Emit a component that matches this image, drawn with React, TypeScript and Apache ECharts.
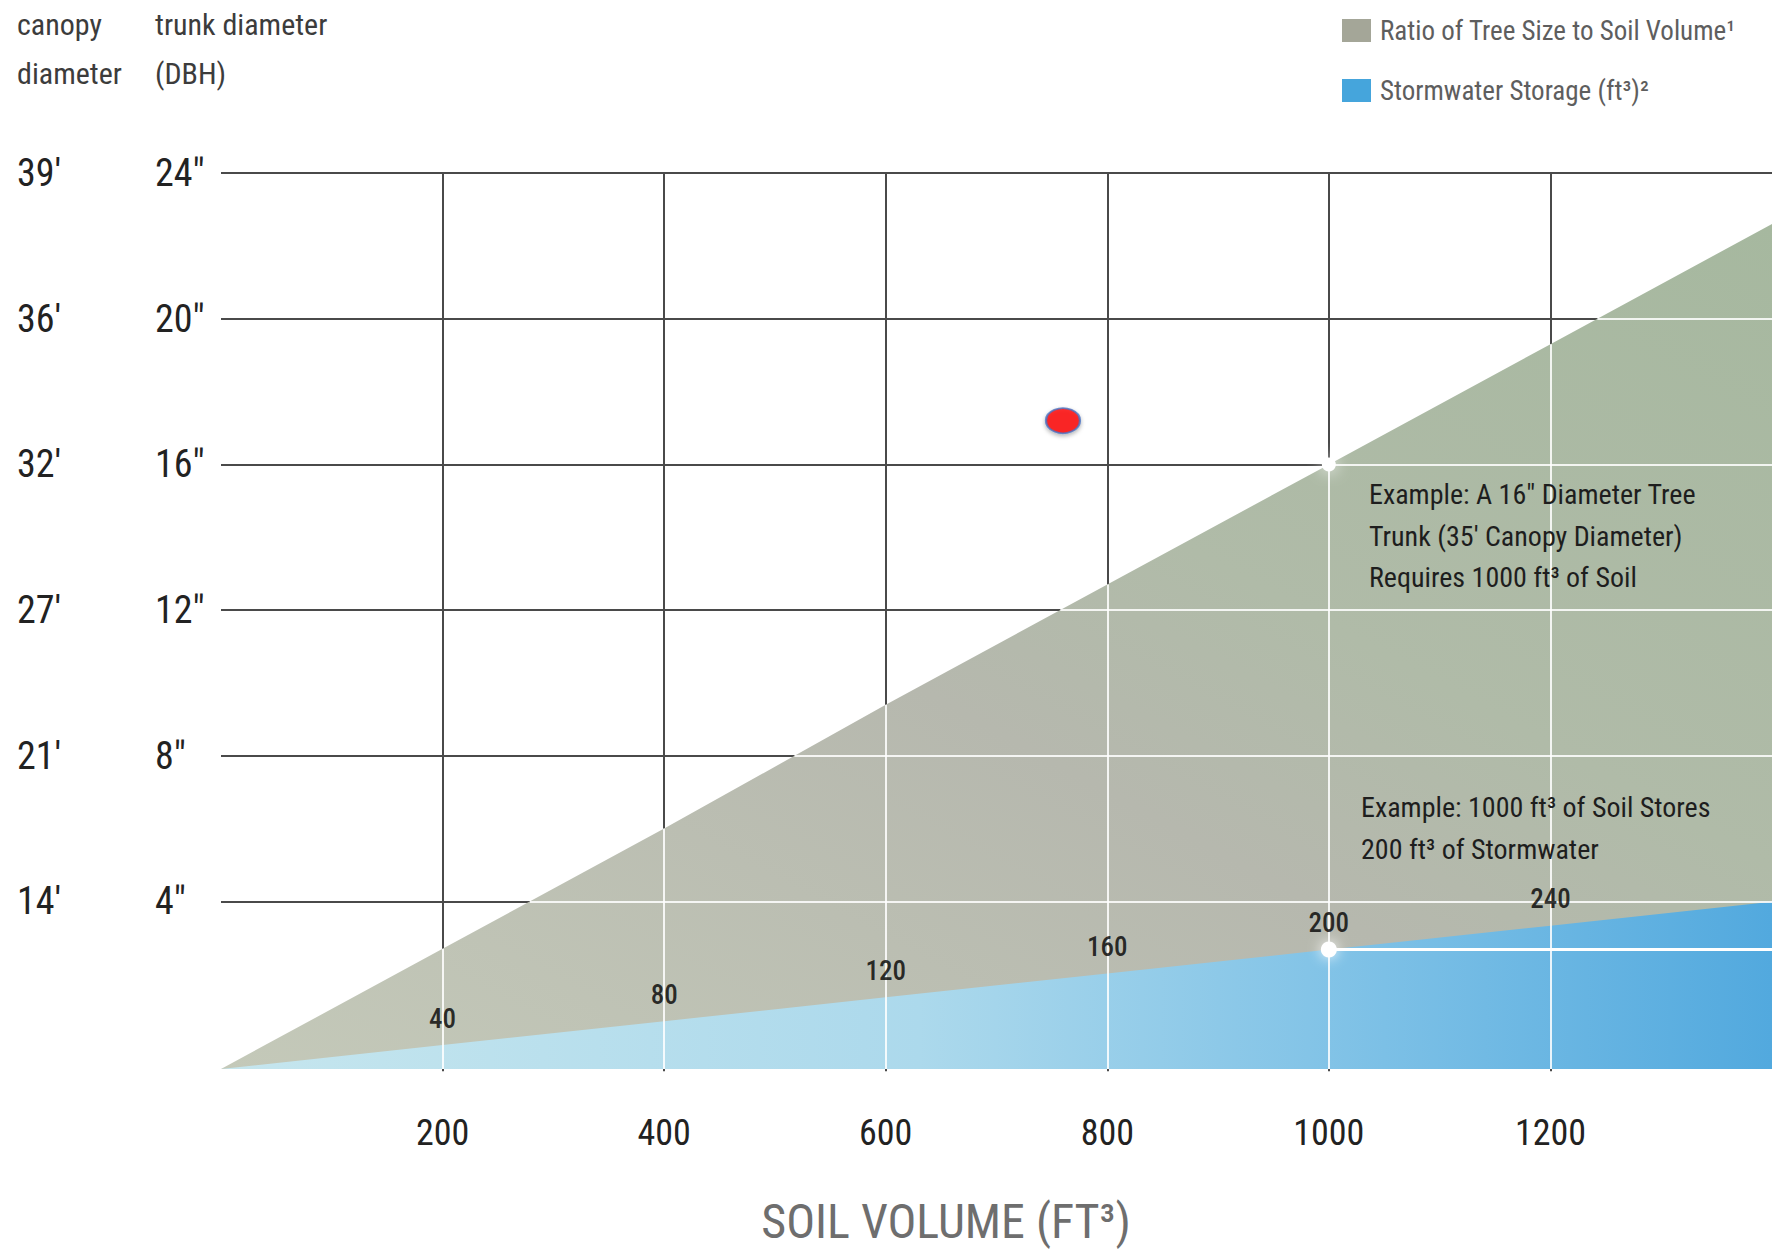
import React, { useEffect, useRef } from 'react';
import * as echarts from 'echarts';

const FONT = "'Liberation Sans Narrow', 'Roboto Condensed', 'DejaVu Sans Condensed', 'Liberation Sans', Arial, sans-serif";

// ---- data ----
const soilVolume = [0, 200, 400, 600, 800, 1000, 1200, 1400];
const treeTrunk = [-0.6, 2.7, 6.0, 9.4, 12.7, 16, 19.3, 22.6];
const stormwater = [0, 40, 80, 120, 160, 200, 240, 280];
const xTicks = [200, 400, 600, 800, 1000, 1200];
const trunkTicks = [4, 8, 12, 16, 20, 24];
const canopyLabels = ["14'", "21'", "27'", "32'", "36'", "39'"];
const Y_MIN = -0.6;
const Y_MAX = 24;
const X_MAX = 1400;
const STORM_MAX = 1500;
const exampleSoil = 1000;
const exampleTrunk = 16;
const exampleStorm = 200;
const redPoint = [760, 17.2];

const TREE_NAME = 'Ratio of Tree Size to Soil Volume¹';
const STORM_NAME = 'Stormwater Storage (ft³)²';

function interp(xs: number[], ys: number[], x: number) {
  for (let i = 0; i < xs.length - 1; i++) {
    if (x >= xs[i] && x <= xs[i + 1]) {
      const t = (x - xs[i]) / (xs[i + 1] - xs[i]);
      return ys[i] + t * (ys[i + 1] - ys[i]);
    }
  }
  return ys[ys.length - 1];
}
function inverse(xs: number[], ys: number[], y: number) {
  for (let i = 0; i < ys.length - 1; i++) {
    if (y >= ys[i] && y <= ys[i + 1]) {
      const t = (y - ys[i]) / (ys[i + 1] - ys[i]);
      return xs[i] + t * (xs[i + 1] - xs[i]);
    }
  }
  return null;
}

export default function App() {
  const ref = useRef<HTMLDivElement>(null);
  useEffect(() => {
    if (!ref.current) return;
    const chart = echarts.init(ref.current, null, { renderer: 'svg' });

    const treeData = soilVolume.map((x, i) => [x, treeTrunk[i]]);
    const stormData = soilVolume.map((x, i) => [x, stormwater[i]]);
    const stormLabelData = stormData.filter((d) => xTicks.includes(d[0]));

    const whiteLines: any[] = [];
    trunkTicks.forEach((v) => {
      const xs = inverse(soilVolume, treeTrunk, v);
      if (xs !== null) whiteLines.push([{ coord: [xs, v] }, { coord: [X_MAX, v] }]);
    });
    xTicks.forEach((x) => {
      whiteLines.push([{ coord: [x, Y_MIN] }, { coord: [x, interp(soilVolume, treeTrunk, x)] }]);
    });

    const option: any = {
      animation: false,
      backgroundColor: '#ffffff',
      textStyle: { fontFamily: FONT },
      grid: { left: 221, right: 5, top: 173, bottom: 180 },
      legend: {
        orient: 'vertical',
        left: 1337,
        top: 12,
        itemWidth: 29,
        itemHeight: 23,
        itemGap: 33,
        icon: 'rect',
        selectedMode: false,
        textStyle: { fontSize: 27, color: '#5e5e5e', fontFamily: FONT, padding: [0, 0, 0, 4] },
        data: [
          { name: TREE_NAME, itemStyle: { color: '#a4a698' } },
          { name: STORM_NAME, itemStyle: { color: '#45a5dc' } },
        ],
      },
      xAxis: {
        type: 'value',
        min: 0,
        max: X_MAX,
        interval: 200,
        axisLine: { show: false },
        axisTick: {
          show: true,
          customValues: xTicks,
          length: 24,
          lineStyle: { color: '#4a4a4a', width: 2 },
        },
        axisLabel: {
          customValues: xTicks,
          formatter: (v: number) => String(v),
          margin: 46,
          fontSize: 36,
          color: '#222',
          fontFamily: FONT,
        },
        splitLine: { show: true, lineStyle: { color: '#4a4a4a', width: 2 } },
      },
      yAxis: [
        {
          type: 'value',
          min: Y_MIN,
          max: Y_MAX,
          position: 'left',
          axisLine: { show: false },
          axisTick: { show: false, customValues: trunkTicks },
          axisLabel: {
            customValues: trunkTicks,
            formatter: (v: number) => `${v}"`,
            align: 'left',
            margin: 66,
            fontSize: 38,
            color: '#222',
            fontFamily: FONT,
          },
          splitLine: { show: true, lineStyle: { color: '#4a4a4a', width: 2 } },
        },
        {
          type: 'value',
          min: Y_MIN,
          max: Y_MAX,
          position: 'left',
          offset: 0,
          axisLine: { show: false },
          axisTick: { show: false, customValues: trunkTicks },
          axisLabel: {
            customValues: trunkTicks,
            formatter: (v: number) => canopyLabels[trunkTicks.indexOf(v)] ?? '',
            align: 'left',
            margin: 204,
            fontSize: 38,
            color: '#222',
            fontFamily: FONT,
          },
          splitLine: { show: false },
        },
        {
          type: 'value',
          min: 0,
          max: STORM_MAX,
          show: false,
          splitLine: { show: false },
        },
      ],
      series: [
        {
          name: TREE_NAME,
          type: 'line',
          z: 2,
          yAxisIndex: 0,
          data: treeData,
          showSymbol: false,
          symbol: 'none',
          lineStyle: { width: 0 },
          areaStyle: {
            origin: 'start',
            opacity: 1,
            color: new echarts.graphic.LinearGradient(0, 1, 1, 0, [
              { offset: 0, color: '#c4c9b9' },
              { offset: 0.45, color: '#b6b8ae' },
              { offset: 0.62, color: '#b0bba8' },
              { offset: 1, color: '#a6b89f' },
            ]),
          },
          silent: true,
        },
        {
          name: STORM_NAME,
          type: 'line',
          z: 3,
          yAxisIndex: 2,
          data: stormData,
          showSymbol: false,
          symbol: 'none',
          lineStyle: { width: 0 },
          areaStyle: {
            origin: 'start',
            opacity: 1,
            color: new echarts.graphic.LinearGradient(0, 0, 1, 0, [
              { offset: 0, color: '#c6e6ee' },
              { offset: 0.45, color: '#acd9ec' },
              { offset: 0.75, color: '#7cc0e6' },
              { offset: 1, color: '#52a9de' },
            ]),
          },
          silent: true,
        },
        {
          name: 'grid-overlay',
          type: 'line',
          z: 4,
          yAxisIndex: 0,
          data: treeData,
          showSymbol: false,
          symbol: 'none',
          lineStyle: { width: 0, opacity: 0 },
          silent: true,
          markLine: {
            silent: true,
            symbol: ['none', 'none'],
            label: { show: false },
            lineStyle: { color: 'rgba(255,255,255,0.85)', width: 2, type: 'solid' },
            data: whiteLines,
          },
          markPoint: {
            silent: true,
            symbol: 'circle',
            symbolSize: 14,
            itemStyle: { color: '#ffffff', shadowBlur: 16, shadowColor: '#ffffff' },
            label: { show: false },
            data: [{ coord: [exampleSoil, exampleTrunk] }],
          },
        },
        {
          name: 'storm-overlay',
          type: 'line',
          z: 5,
          yAxisIndex: 2,
          data: stormData,
          showSymbol: false,
          symbol: 'none',
          lineStyle: { width: 0, opacity: 0 },
          silent: true,
          markLine: {
            silent: true,
            symbol: ['none', 'none'],
            label: { show: false },
            lineStyle: { color: '#ffffff', width: 3, type: 'solid' },
            data: [[{ coord: [exampleSoil, exampleStorm] }, { coord: [X_MAX, exampleStorm] }]],
          },
          markPoint: {
            silent: true,
            symbol: 'circle',
            symbolSize: 16,
            itemStyle: { color: '#ffffff', shadowBlur: 14, shadowColor: '#ffffff' },
            label: { show: false },
            data: [{ coord: [exampleSoil, exampleStorm] }],
          },
        },
        {
          name: 'storm-labels',
          type: 'scatter',
          z: 6,
          yAxisIndex: 2,
          data: stormLabelData,
          symbol: 'circle',
          symbolSize: 2,
          itemStyle: { color: 'rgba(0,0,0,0)' },
          silent: true,
          label: {
            show: true,
            position: 'top',
            distance: 12,
            fontSize: 27,
            fontWeight: 500,
            color: '#000000',
            fontFamily: FONT,
            formatter: (p: any) => String(p.value[1]),
          },
        },
        {
          name: 'marker',
          type: 'scatter',
          z: 7,
          yAxisIndex: 0,
          data: [redPoint],
          symbol: 'circle',
          symbolSize: [34, 25],
          itemStyle: {
            color: '#ff0000',
            borderColor: '#4a72c0',
            borderWidth: 2,
            shadowBlur: 4,
            shadowOffsetY: 2,
            shadowColor: 'rgba(0,0,0,0.35)',
          },
          silent: true,
        },
      ],
      graphic: [
        {
          type: 'text',
          left: 17,
          top: 0,
          style: { text: 'canopy\ndiameter', fontSize: 30, fontFamily: FONT, fill: '#3c3c3c', lineHeight: 49 },
        },
        {
          type: 'text',
          left: 155,
          top: 0,
          style: { text: 'trunk diameter\n(DBH)', fontSize: 30, fontFamily: FONT, fill: '#3c3c3c', lineHeight: 49 },
        },
        {
          type: 'text',
          left: 1369,
          top: 474,
          z: 20,
          style: {
            text: 'Example: A 16" Diameter Tree\nTrunk (35\' Canopy Diameter)\nRequires 1000 ft³ of Soil',
            fontSize: 28,
            fontFamily: FONT,
            fill: '#1e1e1e',
            lineHeight: 41.5,
          },
        },
        {
          type: 'text',
          left: 1361,
          top: 786,
          z: 20,
          style: {
            text: 'Example: 1000 ft³ of Soil Stores\n200 ft³ of Stormwater',
            fontSize: 28,
            fontFamily: FONT,
            fill: '#1e1e1e',
            lineHeight: 42,
          },
        },
        {
          type: 'text',
          x: 946,
          y: 1221,
          style: {
            text: 'SOIL VOLUME (FT³)',
            fontSize: 48,
            fontFamily: FONT,
            fill: '#6e6e6e',
            align: 'center',
            verticalAlign: 'middle',
          },
        },
      ],
    };
    chart.setOption(option);
    return () => chart.dispose();
  }, []);

  return (
    <div
      ref={ref}
      style={{ position: 'fixed', left: 0, top: 0, width: 1777, height: 1249, background: '#fff' }}
    />
  );
}
